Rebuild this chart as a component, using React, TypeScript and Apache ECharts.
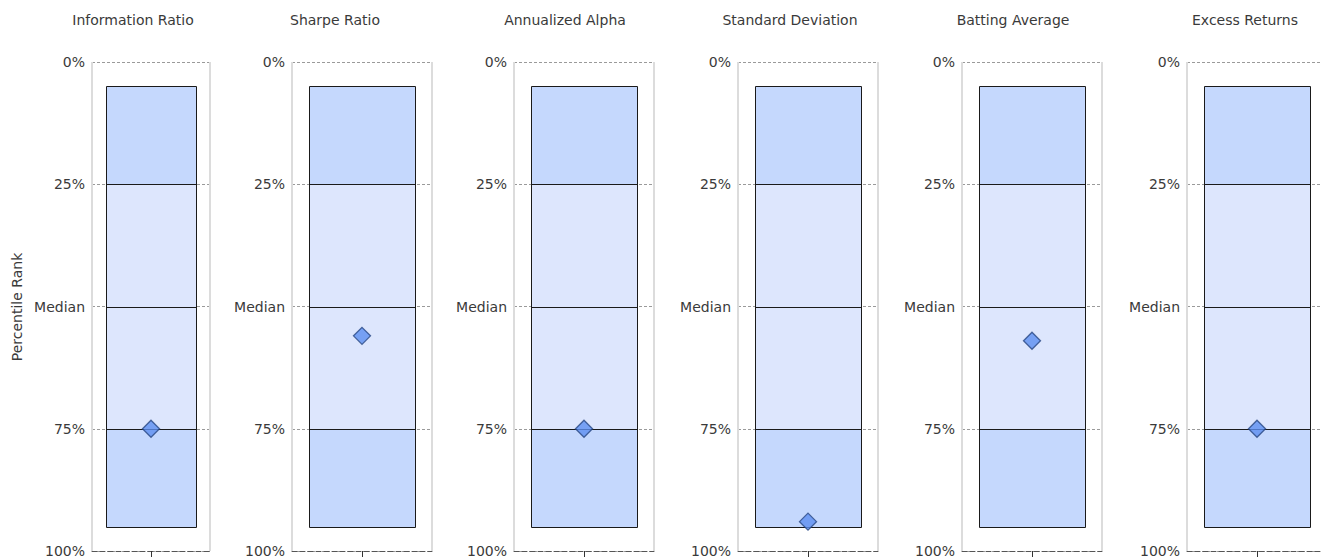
import React, { useEffect, useRef } from "react";
import * as echarts from "echarts";

const metrics = [
  "Information Ratio",
  "Sharpe Ratio",
  "Annualized Alpha",
  "Standard Deviation",
  "Batting Average",
  "Excess Returns",
];
// percentile rank of the fund for each metric (0 = best, 100 = worst)
const fundRank = [75, 56, 75, 94, 57, 75];
// universe band breaks: 5th, 25th, median, 75th, 95th percentiles
const bandBreaks = [5, 25, 50, 75, 95];
const tickValues = [0, 25, 50, 75, 100];
const tickLabels = ["0%", "25%", "Median", "75%", "100%"];
const yAxisTitle = "Percentile Rank";

// layout (pixels)
const gridLefts = [92, 292, 514, 738, 962, 1187];
const gridWidths = [118, 140, 140, 140, 140, 140];
const titleCenters = [133, 335, 565, 790, 1013, 1245];
const FONT = "DejaVu Sans";
const TEXT = "#3a3a3a";
const DARK_BAND = "#c5d8fd";
const LIGHT_BAND = "#dde6fd";
const BOX_FRACTION = 0.76;
const CHART_W = 1321;

export default function App() {
  const ref = useRef<HTMLDivElement>(null);
  useEffect(() => {
    if (!ref.current) return;
    const chart = echarts.init(ref.current, null, { renderer: "svg" });
    const grids: any[] = [];
    const xAxes: any[] = [];
    const yAxes: any[] = [];
    const series: any[] = [];
    const titles: any[] = [];
    const bandColors = [DARK_BAND, LIGHT_BAND, LIGHT_BAND, DARK_BAND];
    const crisp = (v: number) => Math.round(v) + 0.5;

    metrics.forEach((m, i) => {
      grids.push({
        left: gridLefts[i],
        width: gridWidths[i],
        top: 62,
        bottom: 6,
        outerBoundsMode: "none",
        containLabel: false,
      });
      titles.push({
        text: m,
        left: titleCenters[i],
        textAlign: "center",
        top: 13,
        padding: 0,
        textStyle: { fontFamily: FONT, fontSize: 14, fontWeight: "normal", color: TEXT },
      });
      xAxes.push({
        type: "category",
        gridIndex: i,
        data: [m],
        axisLabel: { show: false },
        axisLine: { show: true, onZero: false, lineStyle: { color: "#555", type: [5, 3], width: 1 } },
        axisTick: { show: true, alignWithLabel: true, length: 8, lineStyle: { color: "#333" } },
        splitLine: { show: true, lineStyle: { color: "#dcdcdc", width: 2 } },
      });
      yAxes.push({
        type: "value",
        gridIndex: i,
        inverse: true,
        min: 0,
        max: 100,
        interval: 25,
        axisLine: { show: false },
        axisTick: { show: false },
        axisLabel: {
          margin: 7,
          fontFamily: FONT,
          fontSize: 14,
          color: TEXT,
          formatter: (v: number) => {
            const k = tickValues.indexOf(v);
            return k >= 0 ? tickLabels[k] : "";
          },
        },
        splitLine: { show: true, lineStyle: { color: "#9a9a9a", type: [3, 2], width: 1 } },
      });
      series.push({
        type: "custom",
        xAxisIndex: i,
        yAxisIndex: i,
        silent: true,
        z: 2,
        data: [[m, ...bandBreaks]],
        renderItem: (params: any, api: any) => {
          const cat = api.value(0);
          const ys = bandBreaks.map((_, k) => api.coord([cat, api.value(k + 1)])[1]);
          const cx = api.coord([cat, 0])[0];
          const bw = api.size([1, 0])[0] * BOX_FRACTION;
          const x0 = crisp(cx - bw / 2);
          const x1 = crisp(cx + bw / 2);
          const yc = ys.map(crisp);
          const children: any[] = [];
          for (let k = 0; k < 4; k++) {
            children.push({
              type: "rect",
              shape: { x: x0, y: yc[k], width: x1 - x0, height: yc[k + 1] - yc[k] },
              style: { fill: bandColors[k] },
            });
          }
          for (let k = 1; k < 4; k++) {
            children.push({
              type: "line",
              shape: { x1: x0, y1: yc[k], x2: x1, y2: yc[k] },
              style: { stroke: "#1a1a1a", lineWidth: 1 },
            });
          }
          children.push({
            type: "rect",
            shape: { x: x0, y: yc[0], width: x1 - x0, height: yc[4] - yc[0] },
            style: { fill: "none", stroke: "#1a1a1a", lineWidth: 1 },
          });
          return { type: "group", children };
        },
      });
      series.push({
        type: "scatter",
        xAxisIndex: i,
        yAxisIndex: i,
        symbol: "diamond",
        symbolSize: 17,
        data: [[m, fundRank[i]]],
        itemStyle: { color: "#5d8ff0", borderColor: "#274682", borderWidth: 1.3 },
        z: 5,
      });
    });
    chart.setOption({
      animation: false,
      title: titles,
      grid: grids,
      xAxis: xAxes,
      yAxis: yAxes,
      series,
      graphic: [
        {
          type: "text",
          x: 17,
          y: 307,
          rotation: Math.PI / 2,
          style: {
            text: yAxisTitle,
            fontFamily: FONT,
            fontSize: 14,
            fill: TEXT,
            align: "center",
            verticalAlign: "middle",
          },
        },
      ],
    });
    return () => chart.dispose();
  }, []);
  return (
    <div
      ref={ref}
      style={{ position: "absolute", left: 0, top: 0, width: CHART_W, height: 557, background: "#fff" }}
    />
  );
}
